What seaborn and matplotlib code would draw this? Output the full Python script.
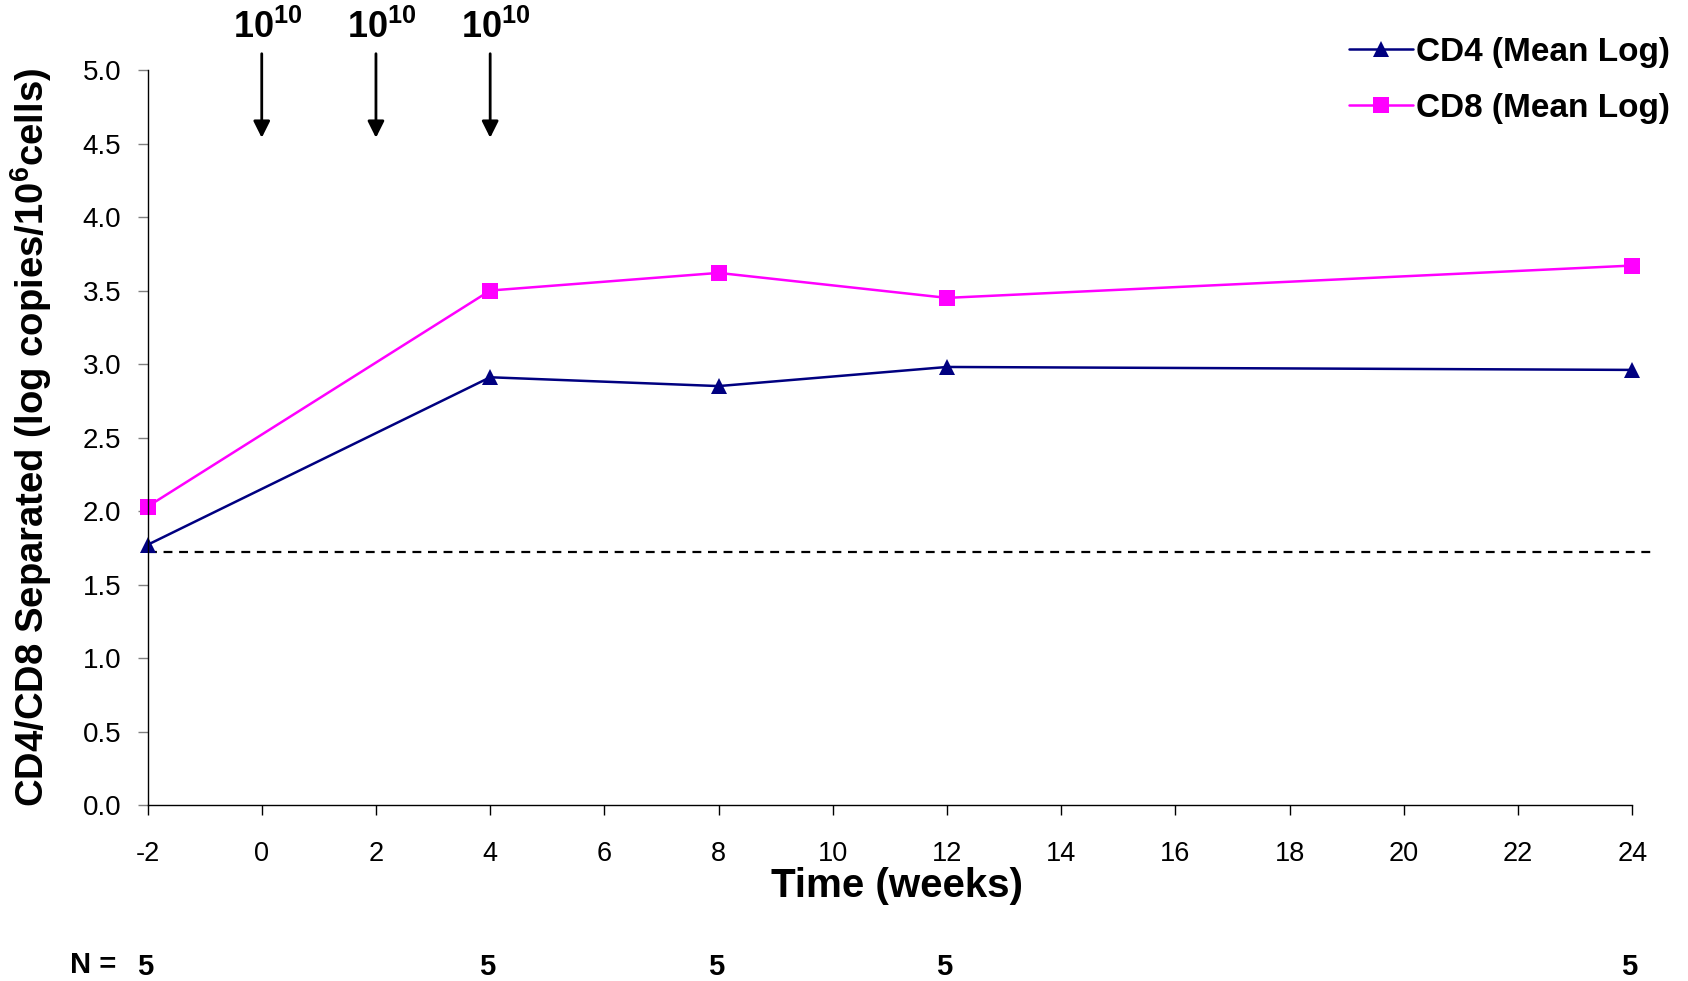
import seaborn as sns
import matplotlib.pyplot as plt
import pandas as pd

# data
weeks = [-2, 4, 8, 12, 24]
cd4_mean_log = [1.77, 2.91, 2.85, 2.98, 2.96]
cd8_mean_log = [2.03, 3.50, 3.62, 3.45, 3.67]
n_per_week = [5, 5, 5, 5, 5]
dose_weeks = [0, 2, 4]
dose_label = r"$\mathbf{10^{10}}$"
detection_limit = 1.72
series_names = ["CD4 (Mean Log)", "CD8 (Mean Log)"]

df = pd.DataFrame({
    "week": weeks * 2,
    "value": cd4_mean_log + cd8_mean_log,
    "series": [series_names[0]] * len(weeks) + [series_names[1]] * len(weeks),
})

sns.set_theme(style="white")
plt.rcParams["font.family"] = ["Liberation Sans", "DejaVu Sans"]
plt.rcParams["mathtext.fontset"] = "custom"
plt.rcParams["mathtext.rm"] = "Liberation Sans"
plt.rcParams["mathtext.bf"] = "Liberation Sans:bold"
plt.rcParams["axes.unicode_minus"] = False
plt.rcParams["text.color"] = "black"
plt.rcParams["axes.labelcolor"] = "black"
plt.rcParams["xtick.color"] = "black"
plt.rcParams["ytick.color"] = "black"

fig = plt.figure(figsize=(16.88, 9.81), dpi=100)
ax = fig.add_axes([0.0874, 0.1794, 0.8796, 0.7492])

sns.lineplot(data=df, x="week", y="value", hue="series", style="series",
             markers={series_names[0]: "^", series_names[1]: "s"}, dashes=False,
             palette={series_names[0]: "#000080", series_names[1]: "#FF00FF"},
             linewidth=1.8, markersize=11, markeredgewidth=0, ax=ax)
for ln in ax.lines:
    ln.set_clip_on(False)

# detection limit
ax.plot([-2, 24.35], [detection_limit, detection_limit], ls=(0, (4, 3)),
        color="black", lw=1.6, clip_on=False, zorder=1)

ax.set_xlim(-2, 24)
ax.set_ylim(0, 5)
ax.set_xticks(range(-2, 25, 2))
ax.set_yticks([i * 0.5 for i in range(11)])
ax.set_yticklabels([f"{i * 0.5:.1f}" for i in range(11)])
ax.tick_params(axis="x", direction="out", length=7, width=1, color="black",
               labelsize=19.5, pad=19, bottom=True)
ax.tick_params(axis="y", direction="out", length=7, width=1, color="#808080",
               labelsize=20, pad=12, left=True)
for s in ["top", "right"]:
    ax.spines[s].set_visible(False)
for s in ["left", "bottom"]:
    ax.spines[s].set_color("black")
    ax.spines[s].set_linewidth(1)

ax.set_xlabel("Time (weeks)", fontsize=29, fontweight="bold")
ax.xaxis.set_label_coords(0.505, -0.085)
ax.set_ylabel(r"CD4/CD8 Separated (log copies/10$^\mathbf{6}$cells)",
              fontsize=27.5, fontweight="bold")
ax.yaxis.set_label_coords(-0.063, 0.5)

# dose arrows
for w in dose_weeks:
    ax.annotate("", xy=(w, 4.52), xytext=(w, 5.13),
                arrowprops=dict(arrowstyle="-|>", color="black", lw=2,
                                mutation_scale=25), annotation_clip=False)
    ax.text(w + 0.1, 5.29, dose_label, ha="center", va="center",
            fontsize=26, clip_on=False)

# N row
trans = ax.get_xaxis_transform()
fig.text(0.0555, 0.0165, "N =", ha="center", va="center", fontsize=21,
         fontweight="bold")
for w, n in zip(weeks, n_per_week):
    ax.text(w - 0.05, -0.22, str(n), transform=trans, ha="center", va="center",
            fontsize=21, fontweight="bold", clip_on=False)

leg = ax.legend(loc="upper right", bbox_to_anchor=(1.007, 0.993),
                bbox_transform=fig.transFigure, frameon=False, fontsize=24,
                handlelength=1.9, handletextpad=0.1, labelspacing=0.75)
for t in leg.get_texts():
    t.set_fontweight("bold")

fig.savefig("out.png", dpi=100)
